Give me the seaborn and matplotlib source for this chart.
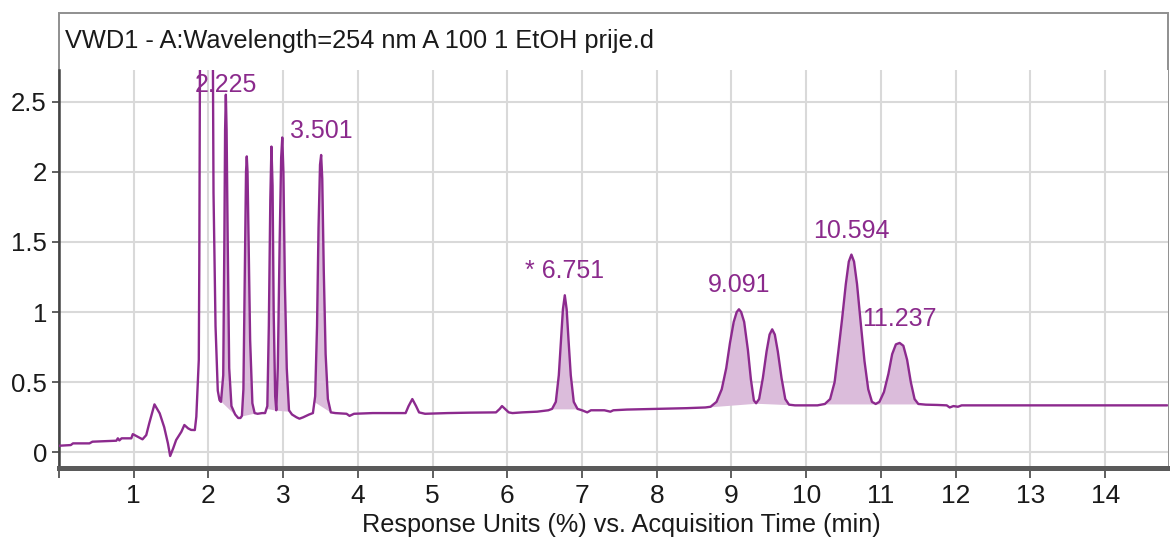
import numpy as np
import pandas as pd
import matplotlib
matplotlib.use("Agg")
import matplotlib.pyplot as plt
from matplotlib.patches import Rectangle
import seaborn as sns

# ---------------- data ----------------
time_min = [
    0.00, 0.16, 0.19, 0.41, 0.45, 0.77, 0.79, 0.81, 0.84, 0.97, 0.99, 1.06, 1.12, 1.17, 1.21,
    1.28, 1.35, 1.41, 1.46, 1.49, 1.53, 1.57, 1.64, 1.68, 1.73, 1.77, 1.82, 1.84, 1.873, 1.88,
    1.89, 2.06, 2.07, 2.097, 2.127, 2.15, 2.17, 2.20, 2.215, 2.225, 2.235, 2.245, 2.26, 2.28,
    2.31, 2.36, 2.40, 2.43,
    2.45, 2.47, 2.49, 2.505, 2.515, 2.525, 2.54, 2.56, 2.59, 2.62, 2.66, 2.72,
    2.76, 2.79, 2.81, 2.83, 2.845, 2.86, 2.875, 2.895, 2.91, 2.93, 2.955, 2.975, 2.99, 3.005,
    3.025, 3.05, 3.08, 3.12, 3.18, 3.22, 3.27, 3.35, 3.40,
    3.43, 3.455, 3.475, 3.495, 3.51, 3.525, 3.545, 3.57, 3.60, 3.64, 3.70, 3.85, 3.89, 3.95,
    4.20, 4.50, 4.64, 4.68, 4.73, 4.78, 4.82, 4.90, 5.20, 5.50, 5.85, 5.90, 5.93, 5.97, 6.02,
    6.07, 6.20, 6.40, 6.55, 6.60,
    6.65, 6.69, 6.72, 6.745, 6.77, 6.795, 6.82, 6.85, 6.89, 6.94, 7.00, 7.07, 7.12, 7.30, 7.38,
    7.42, 7.60, 8.00, 8.40, 8.65, 8.72,
    8.80, 8.87, 8.93, 8.98, 9.03, 9.07, 9.10, 9.13, 9.17, 9.22, 9.26, 9.30, 9.33, 9.37, 9.42,
    9.47, 9.51, 9.545, 9.58, 9.62, 9.67, 9.72, 9.77, 9.85, 10.00, 10.15, 10.25,
    10.32, 10.38, 10.43, 10.48, 10.53, 10.57, 10.605, 10.64, 10.68, 10.73, 10.78, 10.83, 10.88,
    10.93, 10.98, 11.04, 11.10, 11.15, 11.20, 11.25, 11.30, 11.35, 11.40, 11.45, 11.50, 11.60,
    11.75, 11.88, 11.92, 11.97, 12.03, 12.08, 12.50, 13.50, 14.83,
]
response = [
    0.047, 0.052, 0.064, 0.064, 0.076, 0.083, 0.10, 0.085, 0.10, 0.10, 0.13, 0.11, 0.093, 0.123, 0.207,
    0.342, 0.278, 0.18, 0.064, -0.026, 0.028, 0.088, 0.147, 0.195, 0.171, 0.16, 0.159, 0.254, 0.66, 1.37,
    3.00, 3.00, 1.85, 0.90, 0.44, 0.373, 0.36, 0.55, 1.50, 2.30, 2.55, 2.30, 1.50, 0.60,
    0.33, 0.27, 0.245, 0.245,
    0.26, 0.45, 1.30, 2.00, 2.11, 2.00, 1.50, 0.80, 0.35, 0.28, 0.275, 0.28,
    0.28, 0.33, 0.90, 1.80, 2.18, 1.90, 1.00, 0.40, 0.30, 0.60, 1.50, 2.10, 2.245, 2.00,
    1.20, 0.60, 0.30, 0.27, 0.25, 0.24, 0.25, 0.27, 0.28,
    0.40, 0.90, 1.60, 2.05, 2.12, 1.95, 1.30, 0.70, 0.38, 0.285, 0.28, 0.275, 0.26, 0.275,
    0.28, 0.28, 0.28, 0.33, 0.38, 0.33, 0.285, 0.275, 0.28, 0.283, 0.285, 0.31, 0.33, 0.31, 0.285,
    0.28, 0.285, 0.29, 0.30, 0.31,
    0.36, 0.55, 0.80, 1.02, 1.12, 1.02, 0.80, 0.55, 0.36, 0.31, 0.30, 0.285, 0.30, 0.30, 0.29,
    0.30, 0.305, 0.31, 0.315, 0.32, 0.325,
    0.36, 0.45, 0.60, 0.78, 0.93, 1.00, 1.02, 1.00, 0.93, 0.73, 0.52, 0.37, 0.35, 0.38, 0.53,
    0.72, 0.84, 0.877, 0.84, 0.72, 0.53, 0.38, 0.34, 0.335, 0.335, 0.335, 0.345,
    0.38, 0.50, 0.72, 0.95, 1.20, 1.36, 1.41, 1.36, 1.20, 0.92, 0.65, 0.45, 0.36,
    0.345, 0.36, 0.43, 0.56, 0.70, 0.77, 0.78, 0.76, 0.66, 0.50, 0.38, 0.345, 0.34,
    0.338, 0.335, 0.32, 0.33, 0.325, 0.335, 0.335, 0.335, 0.335,
]

# integrated peak windows (start, end) in minutes -> shaded areas
peak_start = [2.15, 2.45, 2.78, 2.91, 3.42, 6.60, 8.72, 9.33, 10.25, 10.93]
peak_end = [2.40, 2.62, 2.91, 3.09, 3.64, 6.94, 9.33, 9.77, 10.93, 11.50]

# annotated peaks
label_rt = [2.23, 3.51, 6.77, 9.10, 10.605, 11.25]
label_height = [2.55, 2.12, 1.12, 1.02, 1.41, 0.78]
label_text = ["2.225", "3.501", "* 6.751", "9.091", "10.594", "11.237"]

x_ticks = list(range(0, 15))
x_tick_labels = [""] + [str(i) for i in range(1, 15)]
y_ticks = [0, 0.5, 1, 1.5, 2, 2.5]
y_tick_labels = ["0", "0.5", "1", "1.5", "2", "2.5"]

title_text = "VWD1 - A:Wavelength=254 nm A 100 1 EtOH prije.d"
x_label = "Response Units (%) vs. Acquisition Time (min)"

# ---------------- style ----------------
sns.set_theme(style="white")
plt.rcParams["font.family"] = ["Liberation Sans", "DejaVu Sans"]

LINE = "#8C2A8E"
FILL = "#DBBCDB"
LABEL = "#8B2A8C"
GRID = "#D9D9D9"
TEXT = "#1a1a1a"

W, H = 1170, 542
fig = plt.figure(figsize=(W / 100, H / 100), dpi=100)
fig.patch.set_facecolor("white")

ax_left, ax_right, ax_top, ax_bot = 58.8, 1168.0, 70.0, 467.5
ax = fig.add_axes([ax_left / W, 1 - ax_bot / H, (ax_right - ax_left) / W, (ax_bot - ax_top) / H])

df = pd.DataFrame({"time": time_min, "resp": response})
sns.lineplot(data=df, x="time", y="resp", ax=ax, color=LINE, linewidth=1.7,
             sort=False, estimator=None, zorder=4)

t_arr = np.array(time_min)
r_arr = np.array(response)
for s, e in zip(peak_start, peak_end):
    tt = np.linspace(s, e, 200)
    rr = np.interp(tt, t_arr, r_arr)
    base = np.interp(tt, [s, e], [rr[0], rr[-1]])
    ax.fill_between(tt, base, rr, where=rr >= base, color=FILL, linewidth=0, zorder=3)

for rt, h, txt in zip(label_rt, label_height, label_text):
    ypos = min(h + 0.085, 2.53)
    ax.text(rt, ypos, txt, ha="center", va="bottom", color=LABEL,
            fontsize=18, zorder=5)

ax.set_xlim(0, (ax_right - ax_left) / 74.74)
ax.set_ylim(-0.108, 2.726)
ax.set_xticks(x_ticks)
ax.set_xticklabels(x_tick_labels)
ax.set_yticks(y_ticks)
ax.set_yticklabels(y_tick_labels)
ax.grid(True, color=GRID, linewidth=1.5)
ax.set_axisbelow(True)

ax.tick_params(axis="x", which="both", bottom=True, direction="out", length=7,
               width=1.2, color="#444444", pad=5, labelsize=19, labelcolor=TEXT)
ax.tick_params(axis="y", which="both", left=True, direction="out", length=5,
               width=1.2, color="#444444", pad=3.5, labelsize=18.5, labelcolor=TEXT)

ax.spines["top"].set_visible(False)
ax.spines["right"].set_visible(False)
ax.spines["left"].set_color("#444444")
ax.spines["left"].set_linewidth(1.8)
ax.spines["bottom"].set_color("#5a5a5a")
ax.spines["bottom"].set_linewidth(3.6)

ax.set_xlabel(x_label, fontsize=18.2, color=TEXT)
ax.xaxis.set_label_coords(0.507, -0.115)
ax.set_ylabel("")

# outer frame with the title band
frame = Rectangle((ax_left / W, 1 - ax_bot / H), (ax_right - ax_left) / W, (ax_bot - 13) / H,
                  transform=fig.transFigure, fill=False, edgecolor="#8f8f8f", linewidth=1.4,
                  zorder=0)
fig.add_artist(frame)
fig.text(65 / W, 1 - 41 / H, title_text, ha="left", va="center", fontsize=18.3,
         color=TEXT)

fig.savefig("out.png", dpi=100)
